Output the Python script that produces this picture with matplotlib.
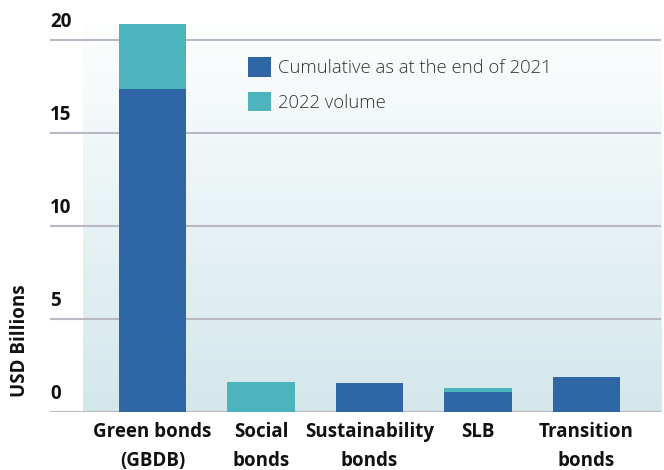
import numpy as np
import matplotlib
matplotlib.use("Agg")
import matplotlib.pyplot as plt
from matplotlib.colors import LinearSegmentedColormap

plt.rcParams['font.family'] = ['Open Sans', 'DejaVu Sans']

categories = ['Green bonds\n(GBDB)', 'Social\nbonds', 'Sustainability\nbonds', 'SLB', 'Transition\nbonds']
cumulative_2021 = [17.35, 0.0, 1.56, 1.08, 1.88]
volume_2022 = [3.5, 1.62, 0.0, 0.22, 0.0]
yticks = [0, 5, 10, 15, 20]

dark_blue = '#2f66a5'
teal = '#4db3bd'
grid_col = '#b9b9c5'

fig = plt.figure(figsize=(6.64, 4.70), dpi=100)
ax = fig.add_axes([50 / 664, 1 - 412 / 470, 611 / 664, 388 / 470])

x = np.arange(len(categories))
xlim = (-0.945, 4.687)
ylim = (0, 20.86)

# soft vertical gradient behind the bars
grad = LinearSegmentedColormap.from_list('bg', ['#d3e7eb', '#fdfefe'])
ax.imshow(np.linspace(0, 1, 256).reshape(-1, 1), cmap=grad, aspect='auto',
          origin='lower', extent=(-0.641, xlim[1], 0, ylim[1]), zorder=0)

for yt in yticks:
    ax.plot([-0.945, xlim[1]], [yt, yt], color=grid_col, lw=1.5, zorder=1,
            solid_capstyle='butt')
    ax.text(-0.945, yt + 0.45, str(yt), fontsize=13.5, fontweight='bold',
            ha='left', va='bottom', color='#111111')

b1 = ax.bar(x, cumulative_2021, width=0.62, color=dark_blue, zorder=2,
            label='Cumulative as at the end of 2021')
b2 = ax.bar(x, volume_2022, width=0.62, bottom=cumulative_2021, color=teal,
            zorder=2, label='2022 volume')

ax.set_xlim(*xlim)
ax.set_ylim(*ylim)
ax.set_xticks(x)
ax.set_xticklabels(categories, fontsize=13.5, fontweight='bold', linespacing=1.65,
                   color='#111111')
ax.tick_params(axis='x', length=0, pad=7)
ax.set_yticks([])
for s in ax.spines.values():
    s.set_visible(False)

fig.text(20 / 664, 1 - 341 / 470, 'USD Billions', rotation=90, fontsize=13.5,
         fontweight='bold', ha='center', va='center', color='#111111')

leg = ax.legend(handles=[b1, b2], loc='upper left', bbox_to_anchor=(0.297, 0.957),
                frameon=False, fontsize=13.3, handlelength=1.25, handleheight=1.25,
                handletextpad=0.35, labelspacing=0.78)
for t in leg.get_texts():
    t.set_color('#333333')
    t.set_fontweight('light')

fig.savefig('out.png', dpi=100)
